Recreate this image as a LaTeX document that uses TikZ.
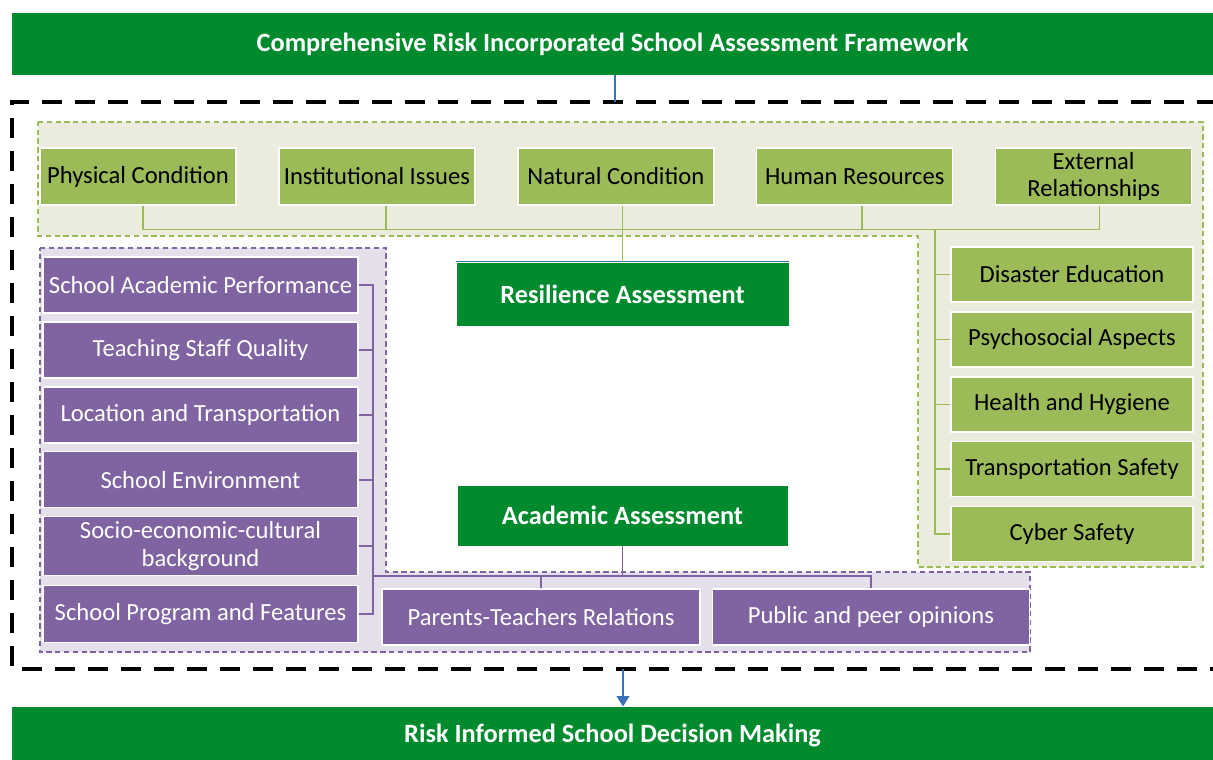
\documentclass[tikz,border=0pt]{standalone}
\usepackage{fontspec}
\setmainfont{Carlito}
\usepackage{tikz}
\usetikzlibrary{arrows.meta, positioning}
\definecolor{bargreen}{RGB}{0,138,46}
\definecolor{olive}{RGB}{155,187,89}
\definecolor{olivebg}{RGB}{235,236,222}
\definecolor{violet}{RGB}{128,100,162}
\definecolor{violetbg}{RGB}{229,223,236}
\definecolor{linkblue}{RGB}{61,114,184}
\tikzstyle{arrow}=[-{Triangle[length=6pt,width=7pt]}, line width=1.6pt, color=linkblue]

\begin{document}
\begin{tikzpicture}[
  bar/.style={rectangle, fill=bargreen, text=white, minimum width=24.02cm,
              font=\fontsize{15}{18}\selectfont\bfseries, inner sep=0pt},
  stage/.style={rectangle, fill=bargreen, draw=white, text=white,
                font=\fontsize{15}{18}\selectfont\bfseries},
  factor/.style={rectangle, fill=olive, draw=white, line width=0.8pt,
                 minimum width=3.92cm, minimum height=1.14cm, align=center,
                 font=\fontsize{14}{15.5}\selectfont, inner sep=1pt},
  risk/.style={factor, minimum width=4.84cm, minimum height=1.1cm},
  acfactor/.style={factor, fill=violet, text=white, minimum width=6.3cm,
                   minimum height=1.12cm},
  glink/.style={draw=olive, line width=0.9pt},
  plink/.style={draw=violet, line width=0.9pt}
]
\useasboundingbox (0,0) rectangle (24.26,-15.18);

% framework frame and the two grouping areas
\draw[black, line width=2.8pt, dash pattern=on 0.4cm off 0.26cm]
  (25,-2.04) -- (0.24,-2.04) -- (0.24,-13.38) -- (25,-13.38);
\draw[olive, fill=olivebg, densely dashed, line width=0.8pt]
  (0.76,-2.44) -- (24.06,-2.44) -- (24.06,-11.34) -- (18.36,-11.34)
  -- (18.36,-4.72) -- (0.76,-4.72) -- cycle;
\draw[violet, fill=violetbg, densely dashed, line width=0.8pt]
  (0.8,-4.96) -- (7.72,-4.96) -- (7.72,-11.44) -- (20.6,-11.44)
  -- (20.6,-13.04) -- (0.8,-13.04) -- cycle;

\node[bar, minimum height=1.24cm] (title) at (12.25,-0.88)
  {Comprehensive Risk Incorporated School Assessment Framework};
\node[bar, minimum height=1.12cm] (decide) at (12.25,-14.7)
  {Risk Informed School Decision Making};

\node[factor] (phys) at (2.76,-3.53) {Physical Condition};
\node[factor, right=0.83cm of phys] (inst)  {Institutional Issues};
\node[factor, right=0.83cm of inst] (nat)   {Natural Condition};
\node[factor, right=0.83cm of nat]  (human) {Human Resources};
\node[factor, right=0.83cm of human] (ext)  {External\\Relationships};

\node[risk] (dis) at (21.44,-5.49) {Disaster Education};
\node[risk, below=0.17cm of dis]   (psy)   {Psychosocial Aspects};
\node[risk, below=0.17cm of psy]   (hyg)   {Health and Hygiene};
\node[risk, below=0.17cm of hyg]   (trans) {Transportation Safety};
\node[risk, below=0.17cm of trans] (cyber) {Cyber Safety};

\node[stage, minimum width=6.66cm, minimum height=1.28cm] (resil) at (12.45,-5.88)
  {Resilience Assessment};
\node[stage, minimum width=6.62cm, minimum height=1.22cm] (acad) at (12.45,-10.31)
  {Academic Assessment};

\node[acfactor] (perf) at (4.01,-5.7) {School Academic Performance};
\node[acfactor, below=0.15cm of perf] (staff) {Teaching Staff Quality};
\node[acfactor, below=0.15cm of staff] (loc)  {Location and Transportation};
\node[acfactor, below=0.15cm of loc]  (env)   {School Environment};
\node[acfactor, below=0.15cm of env, minimum height=1.18cm, text width=6.1cm]
  (socio) {Socio-economic-cultural\\background};
\node[acfactor, below=0.17cm of socio, minimum height=1.14cm] (prog)
  {School Program and Features};
\node[acfactor, minimum width=6.36cm] (ptr) at (10.82,-12.34)
  {Parents-Teachers Relations};
\node[acfactor, minimum width=6.34cm, right=0.22cm of ptr] (pub)
  {Public and peer opinions};

\coordinate (topjoin) at (12.3,-2.04);
\coordinate (botjoin) at (12.46,-13.38);
\coordinate (rtop) at (18.7,-4.58);
\coordinate (pbus) at (7.46,-5.7);
\coordinate (prow) at (7.46,-11.52);

\draw[linkblue, line width=1.6pt] (title.south -| topjoin) -- (topjoin);
\draw[linkblue, line width=0.8pt] (resil.north west) -- (resil.north east);
\draw[arrow] (botjoin) -- (botjoin |- decide.north);

\draw[glink] ([xshift=0.1cm]phys.south) -- ++(0,-0.48) -| ([xshift=0.12cm]ext.south);
\draw[glink] ([xshift=0.18cm]inst.south) -- ++(0,-0.48);
\draw[glink] ([xshift=0.14cm]human.south) -- ++(0,-0.48);
\draw[glink] (resil.north) -- (resil.north |- nat.south);
\draw[glink] (rtop) |- (cyber.west);
\draw[glink] (dis.west) -- (dis.west -| rtop);
\draw[glink] (psy.west) -- (psy.west -| rtop);
\draw[glink] (hyg.west) -- (hyg.west -| rtop);
\draw[glink] (trans.west) -- (trans.west -| rtop);

\draw[plink] (perf.east) -- (pbus) |- (prog.east);
\draw[plink] (staff.east) -- (staff.east -| pbus);
\draw[plink] (loc.east) -- (loc.east -| pbus);
\draw[plink] (env.east) -- (env.east -| pbus);
\draw[plink] (socio.east) -- (socio.east -| pbus);
\draw[plink] (prow) -| (pub.north);
\draw[plink] (ptr.north) -- (ptr.north |- prow);
\draw[plink] (acad.south) -- (acad.south |- prow);
\end{tikzpicture}
\end{document}
